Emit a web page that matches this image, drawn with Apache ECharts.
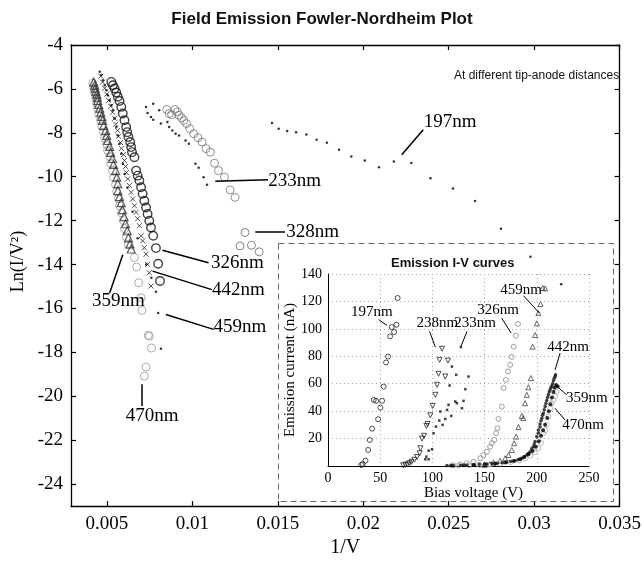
<!DOCTYPE html>
<html>
<head>
<meta charset="utf-8">
<script src="https://cdn.jsdelivr.net/npm/echarts@6/dist/echarts.min.js"></script>
<style>
  html, body { margin: 0; background: #fff; }
  #chart { width: 644px; height: 563px; }
</style>
</head>
<body>
<div id="chart"></div>
<script>
// ---- main Fowler-Nordheim plot: [1/V, ln(I/V^2)] ----
const fn197 = [[0.01466,-7.55],[0.01505,-7.81],[0.01555,-7.92],[0.01607,-7.97],[0.01667,-8.08],[0.01727,-8.31],[0.01787,-8.45],[0.01858,-8.77],[0.0193,-9.08],[0.02009,-9.26],[0.02092,-9.57],[0.02179,-9.31],[0.02281,-9.37],[0.02393,-10.07],[0.02525,-10.53],[0.02654,-11.10],[0.02806,-12.37],[0.02978,-13.64],[0.03158,-14.90]];
const fn233 = [[0.00729,-6.82],[0.00771,-6.67],[0.00738,-7.10],[0.00758,-7.28],[0.00771,-7.40],[0.00806,-6.97],[0.00816,-7.58],[0.00854,-7.51],[0.00864,-7.74],[0.00883,-7.89],[0.00902,-8.04],[0.00922,-8.12],[0.0096,-8.35],[0.0098,-8.50],[0.01018,-9.41],[0.01037,-9.59],[0.01066,-10.02],[0.01086,-10.36]];
const fn238 = [[0.0085,-6.94],[0.00864,-7.12],[0.00879,-7.17],[0.00898,-6.94],[0.00912,-7.05],[0.00922,-7.20],[0.00937,-7.31],[0.0095,-7.43],[0.00966,-7.58],[0.00985,-7.81],[0.01008,-8.04],[0.01033,-8.22],[0.01057,-8.42],[0.0108,-8.72],[0.01105,-8.88],[0.0113,-9.38],[0.01153,-9.72],[0.01188,-10.02],[0.01221,-10.60],[0.0125,-10.94]];
const fn328 = [[0.01308,-12.54],[0.01279,-13.15],[0.01346,-13.12],[0.01391,-13.42]];
const fn326 = [[0.00526,-5.68],[0.00535,-5.83],[0.00545,-5.98],[0.00555,-6.16],[0.00564,-6.36],[0.00574,-6.55],[0.00584,-6.82],[0.00593,-7.12],[0.00603,-7.43],[0.00613,-7.74],[0.00619,-7.97],[0.00626,-8.19],[0.00636,-8.42],[0.00642,-8.65],[0.00647,-8.88],[0.00661,-9.11],[0.00671,-9.72],[0.0068,-9.95],[0.0069,-10.17],[0.007,-10.48],[0.00709,-10.78],[0.00719,-11.09],[0.00729,-11.40],[0.00738,-11.70],[0.00748,-12.0],[0.00758,-12.31],[0.00771,-12.69],[0.00787,-13.25],[0.008,-13.96],[0.00811,-14.75]];
const fn359 = [[0.00423,-5.69],[0.00429,-5.83],[0.00432,-5.97],[0.00435,-6.10],[0.00441,-6.24],[0.00444,-6.38],[0.00446,-6.52],[0.00452,-6.70],[0.00458,-6.88],[0.00464,-7.06],[0.0047,-7.25],[0.00475,-7.43],[0.00481,-7.66],[0.00493,-7.89],[0.00499,-8.12],[0.00504,-8.35],[0.00516,-8.62],[0.00522,-8.89],[0.00533,-9.17],[0.00539,-9.44],[0.00551,-9.72],[0.00558,-10.02],[0.00564,-10.31],[0.00564,-10.63],[0.00574,-10.91],[0.00584,-11.18],[0.00591,-11.50],[0.00601,-11.82],[0.00609,-12.14],[0.00619,-12.46],[0.00626,-12.78],[0.00635,-13.06],[0.00642,-13.29]];
const fn470 = [[0.00417,-5.74],[0.00423,-5.97],[0.00429,-6.20],[0.00435,-6.42],[0.00441,-6.65],[0.00446,-6.88],[0.00452,-7.16],[0.00464,-7.43],[0.0047,-7.70],[0.00481,-7.98],[0.00487,-8.25],[0.00499,-8.53],[0.00504,-8.80],[0.00516,-9.08],[0.00522,-9.40],[0.00533,-9.72],[0.00539,-10.04],[0.00551,-10.36],[0.00557,-10.68],[0.00568,-11.0],[0.00574,-11.32],[0.00585,-11.64],[0.00597,-12.0],[0.00603,-12.37],[0.00614,-12.74],[0.00626,-13.10],[0.00661,-13.68],[0.00674,-14.11],[0.00686,-14.83],[0.0070,-15.51],[0.00705,-16.09],[0.00742,-17.22],[0.00748,-17.26],[0.00761,-17.80],[0.00729,-18.67],[0.00719,-19.08]];
const fn442 = [[0.00464,-5.42],[0.00475,-5.69],[0.00487,-5.97],[0.00499,-6.24],[0.0051,-6.52],[0.00522,-6.79],[0.00533,-7.06],[0.00545,-7.34],[0.00551,-7.61],[0.00562,-7.89],[0.00568,-8.16],[0.0058,-8.44],[0.00585,-8.71],[0.00597,-8.99],[0.00603,-9.26],[0.00609,-9.53],[0.00614,-9.81],[0.00622,-10.10],[0.00632,-10.40],[0.00642,-10.71],[0.00651,-11.01],[0.00661,-11.32],[0.00671,-11.62],[0.0068,-11.91],[0.0069,-12.23],[0.007,-12.69],[0.00709,-12.92],[0.00719,-13.23],[0.00729,-13.53],[0.00738,-13.99],[0.00748,-14.37],[0.00758,-14.98]];
const fn459 = [[0.00458,-5.22],[0.00468,-5.37],[0.00477,-5.60],[0.00487,-5.83],[0.00497,-6.06],[0.00506,-6.29],[0.00516,-6.52],[0.00526,-6.74],[0.00535,-6.97],[0.00545,-7.35],[0.00555,-7.74],[0.00564,-8.12],[0.00574,-8.50],[0.00584,-8.95],[0.00593,-9.41],[0.00603,-9.87],[0.0062,-10.5],[0.0065,-11.6],[0.0068,-12.8],[0.0073,-14.0],[0.0076,-14.6],[0.00787,-15.24],[0.008,-16.21],[0.00816,-17.83]];

const mainXTicks = [0.005, 0.01, 0.015, 0.02, 0.025, 0.03, 0.035];
const mainYTicks = [-24, -22, -20, -18, -16, -14, -12, -10, -8, -6, -4];

// ---- inset I-V curves: [bias voltage (V), emission current (nA)] ----
const iv197 = [[32.0,0.7],[33.3,1.5],[35.9,3.9],[38.4,11.7],[40.0,19],[42.3,27.2],[48.0,34.1],[50.2,42.6],[43.8,48.2],[46.1,47.5],[51.8,47.5],[53.3,57.9],[55.6,75.5],[57.6,79.8],[59.5,94.5],[63.3,97.7],[61.0,101.3],[65.5,103],[66.7,122.5]];
const iv238 = [[72,0.5],[74,0.8],[76,1.2],[78,2],[80,3],[82.7,4.5],[85.2,6.5],[87.8,9.3],[88.5,12.9],[90,20],[92,22],[94.2,29.2],[95.4,30.7],[98,37],[100.2,43.8],[102.8,51.9],[104.4,59.2],[105.9,67.2],[106.9,77.4],[109.2,85.5],[112.3,65.3],[114.9,76.9]];
const iv233 = [[93.2,4.9],[96.4,4.9],[94.2,6.8],[99.6,12.2],[96.4,11.2],[101.1,23.9],[103.4,28.7],[106.6,33.1],[112.3,34.3],[114,40.9],[115.5,44.6],[107.6,39.7],[109.8,30],[116.5,58.7],[118.7,72.5],[118,36.5],[121.9,47],[122.8,66.5],[123.5,45.8],[127.3,86.7],[128.3,42.1],[129.8,47.5],[131.5,56],[134.6,65.2]];
const iv326 = [[120,0.5],[126.7,1.2],[133,2],[139.4,3.1],[145.8,5.6],[149,8],[152.2,10.4],[155.3,14.1],[157,16.6],[159.2,19],[161,23.9],[162.3,27.5],[163.3,34.3],[166.5,43.3],[168.1,56.8],[170.4,62.8],[172.5,68.9],[174.5,73.8],[176,79.6],[177.9,87],[179.9,95],[182,103.6]];
const iv459 = [[150,0.8],[155,1.5],[158.5,2.4],[164.9,3.9],[169.7,5.6],[172.9,8],[176,11.7],[178.3,16.6],[180.2,21.4],[182.4,28.3],[185.6,36.5],[187,35],[188.8,45.8],[190.4,51.9],[192,57.4],[194.3,64.1],[196,87],[198.4,95.5],[200,104],[201.5,111.5],[203.5,118.1],[205.7,129.8],[208,129.5]];
const iv442 = [[114,0.3],[120,0.4],[127,0.5],[133,0.7],[139,1],[145,1.2],[152,1.5],[157,1.8],[162,2],[167,2.4],[171,2.7],[175,3.2],[179,3.9],[182,4.6],[185.6,5.6],[188,6.8],[190.4,8],[192,9.2],[193.6,10.4],[195,12.5],[196.7,14.1],[197.5,16],[198.4,17.8],[200,21.4],[201.5,24],[201.5,26.3],[203.1,28.5],[203.1,30.7],[204,33],[204.8,34.8],[205.5,37],[206.3,38.5],[207.1,41],[207.9,43.3],[208.7,45.5],[209.5,47.7],[210.3,50],[211.1,51.9],[211.9,54],[212.7,55.5],[213.5,57],[214.3,58.4],[215.1,60],[215.9,62.1],[216.7,64],[217.5,65.2],[218,66.5]];
const iv359 = [[118,0.3],[130,0.5],[140,0.8],[150,1.2],[160,1.8],[170,2.6],[178,3.6],[184,5],[188,6.5],[192,8.5],[196,11],[199,14],[202,18],[204,22],[206,26],[208,30],[210,35],[211.5,40],[213,45],[214.5,50],[216,54],[217,57],[218.5,59],[220,58]];
const iv470 = [[125,0.3],[135,0.5],[145,0.8],[155,1.2],[165,1.8],[175,2.8],[183,4],[189,5.5],[194,7.5],[198,10],[201.5,13],[201.5,22.6],[204,17],[206.3,23.9],[208,26],[209.5,30],[211.1,36],[212.7,42.1],[214.3,45.8],[215.9,48.2],[217.5,51.1],[219,54]];

// ---- labels with arrows (data coordinates) ----
const mainNotes = [
  { name: '197nm', text: [0.02509, -7.50], from: [0.02351, -7.86], to: [0.02225, -9.0] },
  { name: '233nm', text: [0.01599, -10.18], from: [0.01443, -10.14], to: [0.01134, -10.21] },
  { name: '328nm', text: [0.01704, -12.5], from: [0.01542, -12.5], to: [0.01368, -12.5] },
  { name: '326nm', text: [0.01263, -13.91], from: [0.01095, -13.92], to: [0.00825, -13.35] },
  { name: '442nm', text: [0.01269, -15.14], from: [0.01114, -15.14], to: [0.00767, -14.30] },
  { name: '459nm', text: [0.01278, -16.86], from: [0.01124, -16.95], to: [0.00845, -16.27] },
  { name: '359nm', text: [0.00568, -15.68], from: [0.00516, -15.29], to: [0.00593, -13.55] },
  { name: '470nm', text: [0.00765, -20.91], from: [0.00705, -20.44], to: [0.00705, -19.45] }
];
const insetNotes = [
  { name: '197nm', text: [42, 112.5], from: [48.6, 106.7], to: [56.6, 102.5] },
  { name: '238nm', text: [104.7, 104.5], from: [97.3, 98.1], to: [102.8, 86.7] },
  { name: '233nm', text: [141, 104.5], from: [133.1, 98.1], to: [127.3, 87.1] },
  { name: '326nm', text: [163, 114], from: [166.3, 107.9], to: [175.4, 96.9] },
  { name: '459nm', text: [185, 128.6], from: [187.2, 124.2], to: [202.5, 111.5] },
  { name: '442nm', text: [229.9, 86.9], from: [222.3, 82.3], to: [217.5, 70.1] },
  { name: '359nm', text: [248, 49.7], from: [228.7, 51.9], to: [217.5, 59.2] },
  { name: '470nm', text: [244.3, 29.9], from: [227, 33.6], to: [217.5, 42.1] }
];

const serif = 'Liberation Serif';
const sans = 'Liberation Sans';
const none = 'rgba(0,0,0,0)';
const crossPath = 'path://M0,0L10,10M10,0L0,10';

function arrows(notes, width, head) {
  return {
    silent: true, animation: false, symbol: ['none', 'arrow'], symbolSize: [0, head],
    lineStyle: { color: '#000', width: width, type: 'solid' },
    label: { show: false }, emphasis: { disabled: true },
    data: notes.map(n => [{ coord: n.from }, { coord: n.to }])
  };
}
function texts(notes, size) {
  return {
    silent: true, animation: false, symbol: 'circle', symbolSize: 1,
    itemStyle: { color: none },
    label: { show: true, position: 'inside', formatter: p => p.name, color: '#000', fontFamily: serif, fontSize: size },
    emphasis: { disabled: true },
    data: notes.map(n => ({ name: n.name, coord: n.text }))
  };
}

function mainSeries(name, data, symbol, size, itemStyle, extra) {
  return Object.assign({ name, type: 'scatter', xAxisIndex: 0, yAxisIndex: 0, data, symbol, symbolSize: size, itemStyle, silent: true }, extra || {});
}
function insetSeries(name, data, symbol, size, itemStyle, extra) {
  return Object.assign({ name, type: 'scatter', xAxisIndex: 2, yAxisIndex: 2, data, symbol, symbolSize: size, itemStyle, silent: true }, extra || {});
}

const chart = echarts.init(document.getElementById('chart'), null, { renderer: 'canvas' });
const frame = { show: true, lineStyle: { color: '#000', width: 1.3 } };
const tickIn = (vals) => ({ show: true, inside: true, length: 5, customValues: vals, lineStyle: { color: '#000', width: 1.2 } });

const option = {
  animation: false,
  backgroundColor: '#fff',
  title: [
    { text: 'Field Emission Fowler-Nordheim Plot', left: 'center', top: 6,
      textStyle: { fontFamily: sans, fontSize: 17, fontWeight: 'bold', color: '#111' } },
    { text: 'At different tip-anode distances', left: 449, top: 65,
      textStyle: { fontFamily: sans, fontSize: 12, fontWeight: 'normal', color: '#111' } },
    { text: 'Emission I-V curves', left: 386, top: 252,
      textStyle: { fontFamily: sans, fontSize: 13, fontWeight: 'bold', color: '#111' } }
  ],
  grid: [
    { left: 71, top: 45, right: 19, bottom: 56 },
    { left: 328, top: 274, right: 55, bottom: 97 }
  ],
  xAxis: [
    { type: 'value', gridIndex: 0, min: 0.0029, max: 0.035, position: 'bottom',
      axisLine: frame, axisTick: tickIn(mainXTicks), splitLine: { show: false },
      axisLabel: { customValues: mainXTicks, formatter: v => String(v), color: '#000', fontFamily: serif, fontSize: 19, margin: 8 },
      name: '1/V', nameLocation: 'middle', nameGap: 30,
      nameTextStyle: { fontFamily: serif, fontSize: 20, color: '#000' } },
    { type: 'value', gridIndex: 0, min: 0.0029, max: 0.035, position: 'top',
      axisLine: frame, axisTick: tickIn(mainXTicks), axisLabel: { show: false }, splitLine: { show: false } },
    { type: 'value', gridIndex: 1, min: 0, max: 250, interval: 50,
      axisLine: { show: true, lineStyle: { color: '#000', width: 1 } }, axisTick: { show: false },
      splitLine: { show: true, lineStyle: { color: '#aaa', type: [1, 3], width: 1 } },
      axisLabel: { color: '#000', fontFamily: serif, fontSize: 14, margin: 5 },
      name: 'Bias voltage (V)', nameLocation: 'middle', nameGap: 17,
      nameTextStyle: { fontFamily: serif, fontSize: 15, color: '#000', padding: [0, 0, 0, 30] } }
  ],
  yAxis: [
    { type: 'value', gridIndex: 0, min: -25, max: -4, position: 'left',
      axisLine: frame, axisTick: tickIn(mainYTicks), splitLine: { show: false },
      axisLabel: { customValues: mainYTicks, color: '#000', fontFamily: serif, fontSize: 19, margin: 8 },
      name: 'Ln(I/V²)', nameLocation: 'middle', nameGap: 26,
      nameTextStyle: { fontFamily: serif, fontSize: 18, color: '#000', padding: [0, 0, 0, 28] } },
    { type: 'value', gridIndex: 0, min: -25, max: -4, position: 'right',
      axisLine: frame, axisTick: tickIn(mainYTicks), axisLabel: { show: false }, splitLine: { show: false } },
    { type: 'value', gridIndex: 1, min: 0, max: 140, interval: 20,
      axisLine: { show: true, lineStyle: { color: '#000', width: 1 } }, axisTick: { show: false },
      splitLine: { show: true, lineStyle: { color: '#aaa', type: [1, 3], width: 1 } },
      axisLabel: { showMinLabel: false, color: '#000', fontFamily: serif, fontSize: 14, margin: 6 },
      name: 'Emission current (nA)', nameLocation: 'middle', nameGap: 30,
      nameTextStyle: { fontFamily: serif, fontSize: 15, color: '#000' } }
  ],
  graphic: [
    { type: 'rect', shape: { x: 278.5, y: 243.5, width: 335, height: 258 },
      style: { fill: none, stroke: '#666', lineWidth: 1, lineDash: [6, 4] }, silent: true, z: 1 }
  ],
  series: [
    mainSeries('470nm', fn470, 'circle', 8, { color: none, borderColor: '#9a9a9a', borderWidth: 1 }),
    mainSeries('359nm', fn359, 'triangle', 8, { color: none, borderColor: '#333', borderWidth: 1.2 }),
    mainSeries('442nm', fn442, crossPath, 5, { color: none, borderColor: '#222', borderWidth: 1 }),
    mainSeries('459nm', fn459, 'circle', 2.5, { color: '#000' }),
    mainSeries('326nm', fn326, 'circle', 8.5, { color: none, borderColor: '#111', borderWidth: 1.4 }),
    mainSeries('238nm', fn238, 'circle', 8, { color: none, borderColor: '#777', borderWidth: 1 }),
    mainSeries('233nm', fn233, 'circle', 2.5, { color: '#000' }),
    mainSeries('328nm', fn328, 'circle', 8, { color: none, borderColor: '#666', borderWidth: 1 }),
    mainSeries('197nm', fn197, 'circle', 2.5, { color: '#000' },
      { markLine: arrows(mainNotes, 1.5, 13), markPoint: texts(mainNotes, 19) }),

    insetSeries('197nm', iv197, 'circle', 5, { color: none, borderColor: '#222', borderWidth: 1 }),
    insetSeries('238nm', iv238, 'triangle', 5, { color: none, borderColor: '#222', borderWidth: 1 }, { symbolRotate: 180 }),
    insetSeries('233nm', iv233, 'rect', 2.5, { color: '#111' }),
    insetSeries('326nm', iv326, 'circle', 5, { color: none, borderColor: '#888', borderWidth: 1 }),
    insetSeries('459nm', iv459, 'triangle', 5, { color: none, borderColor: '#444', borderWidth: 1 }),
    insetSeries('470nm', iv470, 'circle', 5, { color: none, borderColor: '#aaa', borderWidth: 1 }),
    insetSeries('442nm', iv442, 'circle', 3.5, { color: '#111' }),
    insetSeries('359nm', iv359, 'circle', 4, { color: '#000' },
      { markLine: arrows(insetNotes, 1, 8), markPoint: texts(insetNotes, 15) })
  ]
};
chart.setOption(option);
</script>
</body>
</html>
